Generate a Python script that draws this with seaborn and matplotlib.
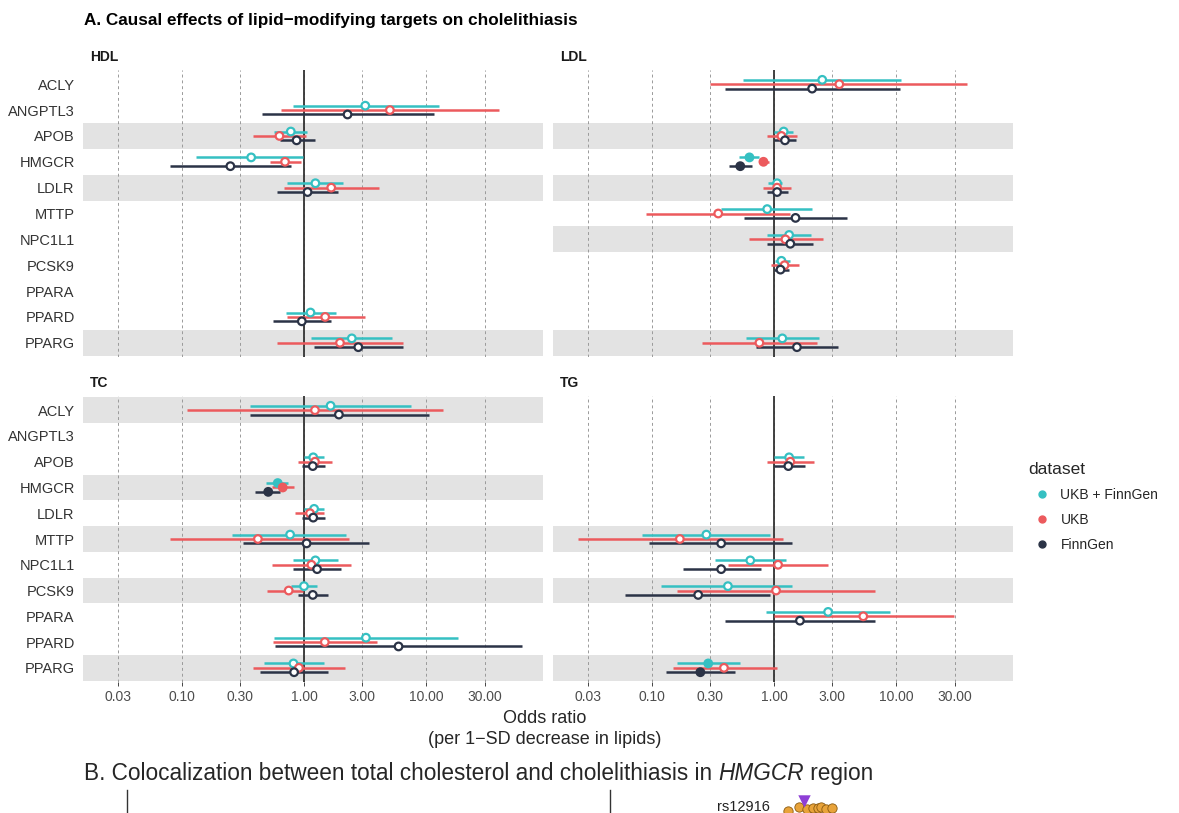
import matplotlib
matplotlib.use("Agg")
import pandas as pd
import matplotlib.pyplot as plt
from matplotlib.lines import Line2D
import seaborn as sns

GENES = ["ACLY", "ANGPTL3", "APOB", "HMGCR", "LDLR", "MTTP",
         "NPC1L1", "PCSK9", "PPARA", "PPARD", "PPARG"]
DATASETS = ["UKB + FinnGen", "UKB", "FinnGen"]
PALETTE = ["#35C0C2", "#EC5A5D", "#2B3346"]
X_TICKS = [0.03, 0.1, 0.3, 1, 3, 10, 30]
X_TICK_LABELS = ["0.03", "0.10", "0.30", "1.00", "3.00", "10.00", "30.00"]

# (odds ratio, lower CI, upper CI) per gene, one list per dataset
HDL_GENES = ["ANGPTL3", "APOB", "HMGCR", "LDLR", "PPARD", "PPARG"]
HDL_META = [(3.17, 0.81, 12.6), (0.78, 0.57, 1.06), (0.37, 0.13, 0.99),
            (1.24, 0.73, 2.10), (1.13, 0.71, 1.82), (2.46, 1.15, 5.24)]
HDL_UKB = [(5.04, 0.65, 39.3), (0.63, 0.38, 1.04), (0.70, 0.53, 0.94),
           (1.67, 0.69, 4.09), (1.49, 0.72, 3.13), (1.97, 0.60, 6.50)]
HDL_FG = [(2.27, 0.45, 11.5), (0.87, 0.64, 1.22), (0.25, 0.08, 0.79),
          (1.07, 0.60, 1.91), (0.96, 0.56, 1.66), (2.78, 1.20, 6.50)]

LDL_GENES = ["ACLY", "APOB", "HMGCR", "LDLR", "MTTP", "NPC1L1", "PCSK9", "PPARG"]
LDL_META = [(2.48, 0.56, 11.0), (1.20, 1.00, 1.43), (0.63, 0.52, 0.76),
            (1.06, 0.89, 1.16), (0.88, 0.37, 2.05), (1.33, 0.88, 1.99),
            (1.15, 1.01, 1.35), (1.17, 0.59, 2.34)]
LDL_UKB = [(3.42, 0.30, 38.2), (1.15, 0.88, 1.55), (0.82, 0.76, 0.91),
           (1.06, 0.82, 1.37), (0.35, 0.09, 1.36), (1.24, 0.63, 2.50),
           (1.22, 0.94, 1.60), (0.76, 0.26, 2.23)]
LDL_FG = [(2.05, 0.40, 10.7), (1.23, 1.00, 1.51), (0.53, 0.43, 0.66),
          (1.06, 0.87, 1.31), (1.50, 0.57, 3.94), (1.36, 0.88, 2.09),
          (1.13, 1.00, 1.32), (1.54, 0.71, 3.33)]

TC_GENES = ["ACLY", "APOB", "HMGCR", "LDLR", "MTTP", "NPC1L1", "PCSK9", "PPARD", "PPARG"]
TC_META = [(1.65, 0.36, 7.55), (1.19, 1.00, 1.46), (0.61, 0.49, 0.74),
           (1.21, 1.00, 1.47), (0.77, 0.26, 2.22), (1.24, 0.82, 1.88),
           (1.00, 0.78, 1.28), (3.21, 0.57, 18.2), (0.82, 0.47, 1.45)]
TC_UKB = [(1.23, 0.11, 13.8), (1.23, 0.90, 1.71), (0.67, 0.55, 0.83),
          (1.12, 0.85, 1.47), (0.42, 0.08, 2.35), (1.15, 0.55, 2.41),
          (0.75, 0.50, 0.98), (1.48, 0.56, 3.99), (0.91, 0.38, 2.16)]
TC_FG = [(1.93, 0.36, 10.5), (1.18, 0.96, 1.49), (0.51, 0.40, 0.64),
         (1.19, 0.97, 1.48), (1.05, 0.32, 3.41), (1.28, 0.82, 2.00),
         (1.18, 0.90, 1.58), (5.93, 0.58, 60.9), (0.83, 0.44, 1.57)]

TG_GENES = ["APOB", "MTTP", "NPC1L1", "PCSK9", "PPARA", "PPARG"]
TG_META = [(1.33, 1.00, 1.75), (0.28, 0.084, 0.93), (0.64, 0.33, 1.26),
           (0.42, 0.12, 1.40), (2.77, 0.86, 8.94), (0.29, 0.16, 0.53)]
TG_UKB = [(1.36, 0.87, 2.12), (0.17, 0.025, 1.18), (1.08, 0.42, 2.78),
          (1.04, 0.16, 6.72), (5.37, 1.00, 29.6), (0.39, 0.15, 1.05)]
TG_FG = [(1.31, 1.00, 1.79), (0.37, 0.095, 1.40), (0.37, 0.18, 0.79),
         (0.24, 0.061, 0.93), (1.63, 0.40, 6.68), (0.25, 0.13, 0.48)]

# estimates whose CI excludes 1 (drawn as filled points)
SIGNIFICANT = [("LDL", "HMGCR", "UKB + FinnGen"), ("LDL", "HMGCR", "UKB"),
               ("LDL", "HMGCR", "FinnGen"), ("TC", "HMGCR", "UKB + FinnGen"),
               ("TC", "HMGCR", "UKB"), ("TC", "HMGCR", "FinnGen"),
               ("TG", "PPARG", "UKB + FinnGen"), ("TG", "PPARG", "FinnGen")]

# visible top of panel B (locus plot, cut off by the page)
B_SNP_POS = [74.605, 74.640, 74.665, 74.685, 74.700, 74.712, 74.728, 74.745]
B_SNP_LOGP = [36.0, 36.8, 36.4, 36.6, 36.5, 36.7, 36.4, 36.6]
B_LEAD_POS = [74.655]
B_LEAD_LOGP = [38.0]
B_LEAD_NAME = "rs12916"

PANELS = {
    "HDL": (HDL_GENES, HDL_META, HDL_UKB, HDL_FG),
    "LDL": (LDL_GENES, LDL_META, LDL_UKB, LDL_FG),
    "TC": (TC_GENES, TC_META, TC_UKB, TC_FG),
    "TG": (TG_GENES, TG_META, TG_UKB, TG_FG),
}

rows = []
offsets = {"UKB + FinnGen": -0.17, "UKB": 0.0, "FinnGen": 0.17}
for lipid, (genes, *sets) in PANELS.items():
    for ds, vals in zip(DATASETS, sets):
        for g, (o, lo, hi) in zip(genes, vals):
            rows.append({"lipid": lipid, "gene": g, "dataset": ds, "or": o,
                         "lo": lo, "hi": hi,
                         "sig": (lipid, g, ds) in SIGNIFICANT,
                         "y": GENES.index(g) + offsets[ds]})
df = pd.DataFrame(rows)
color_map = dict(zip(DATASETS, PALETTE))

sns.set_theme(style="white")
plt.rcParams["font.family"] = ["Liberation Sans", "DejaVu Sans"]

W, H = 1179, 813
fig = plt.figure(figsize=(W / 100, H / 100), dpi=100)


def px_axes(left, top, right, bottom):
    return fig.add_axes([left / W, 1 - bottom / H, (right - left) / W, (bottom - top) / H])


boxes = {"HDL": (83, 70, 543, 357), "LDL": (553, 70, 1013, 357),
         "TC": (83, 396, 543, 682), "TG": (553, 396, 1013, 682)}

for lipid, box in boxes.items():
    ax = px_axes(*box)
    sub = df[df["lipid"] == lipid]
    ax.set_xscale("log")

    # shaded rows: every other gene that has estimates, counted from the bottom
    present = sorted({GENES.index(g) for g in sub["gene"]}, reverse=True)
    for i in present[::2]:
        ax.axhspan(i - 0.5, i + 0.5, color="#E3E3E3", lw=0, zorder=0)

    ax.axvline(1, color="#333333", lw=1.3, zorder=1)
    ax.hlines(sub["y"], sub["lo"], sub["hi"],
              colors=[color_map[d] for d in sub["dataset"]], lw=1.8, zorder=2)

    filled = sub[sub["sig"]]
    hollow = sub[~sub["sig"]]
    if len(hollow):
        sns.scatterplot(data=hollow, x="or", y="y", hue="dataset", hue_order=DATASETS,
                        palette=PALETTE, s=30, linewidth=1.6, legend=False, ax=ax, zorder=3)
        coll = ax.collections[-1]
        coll.set_edgecolors(coll.get_facecolors())
        coll.set_facecolor("white")
    if len(filled):
        sns.scatterplot(data=filled, x="or", y="y", hue="dataset", hue_order=DATASETS,
                        palette=PALETTE, s=30, linewidth=1.6, legend=False, ax=ax, zorder=3)
        coll = ax.collections[-1]
        coll.set_edgecolors(coll.get_facecolors())

    ax.set_xlim(0.0156, 90)
    ax.set_ylim(10.55, -0.55)
    ax.set_xticks(X_TICKS)
    ax.minorticks_off()
    ax.set_axisbelow(True)
    ax.xaxis.grid(True, ls=(0, (3, 3)), color="#9A9A9A", lw=0.7)
    ax.yaxis.grid(False)
    for s in ax.spines.values():
        s.set_visible(False)
    ax.set_xlabel("")
    ax.set_ylabel("")

    ax.set_yticks(range(len(GENES)))
    if lipid in ("HDL", "TC"):
        ax.set_yticklabels(GENES, fontsize=10.5, color="#333333")
        ax.tick_params(axis="y", length=0, pad=6)
    else:
        ax.set_yticklabels([])
        ax.tick_params(axis="y", length=0)
    if lipid in ("TC", "TG"):
        ax.set_xticklabels(X_TICK_LABELS, fontsize=10, color="#4D4D4D")
        ax.tick_params(axis="x", length=3, width=0.7, color="#444444", pad=3, bottom=True)
    else:
        ax.set_xticklabels([])
        ax.tick_params(axis="x", length=0)

    ax.text(0.016, 1 + 13 / (box[3] - box[1]), lipid, transform=ax.transAxes,
            fontsize=10, fontweight="bold", va="center", ha="left", color="#1A1A1A")

fig.text(84 / W, 1 - 21 / H, "A. Causal effects of lipid\u2212modifying targets on cholelithiasis",
         fontsize=12.3, fontweight="bold", va="center", ha="left", color="black")
fig.text(545 / W, 1 - 718 / H, "Odds ratio", fontsize=13, ha="center", va="center")
fig.text(545 / W, 1 - 739 / H, "(per 1\u2212SD decrease in lipids)", fontsize=13,
         ha="center", va="center")

handles = [Line2D([], [], marker="o", ls="", color=c, markersize=5) for c in PALETTE]
fig.legend(handles, DATASETS, title="dataset", loc="upper left",
           bbox_to_anchor=(1016 / W, 1 - 449 / H), frameon=False, fontsize=10,
           title_fontsize=12.5, handletextpad=0.3, labelspacing=0.8, alignment="left")

# panel B heading, with the gene name in italics
top = fig.add_axes([0, 0, 1, 1])
top.set_axis_off()
t1 = top.text(84 / W, 1 - 773 / H, "B. Colocalization between total cholesterol and cholelithiasis in ",
              fontsize=16.3, va="center", ha="left")
t2 = top.annotate("HMGCR", xy=(1, 0), xycoords=t1, va="bottom", ha="left",
                  fontsize=16.3, style="italic")
top.annotate(" region", xy=(1, 0), xycoords=t2, va="bottom", ha="left", fontsize=16.3)

# cut-off locus plots of panel B
axb1 = px_axes(127, 790, 560, 1000)
axb2 = px_axes(610, 790, 1013, 1000)
for a in (axb1, axb2):
    a.set_facecolor("none")
    for name, s in a.spines.items():
        s.set_visible(name == "left")
    a.spines["left"].set_color("#333333")
    a.spines["left"].set_linewidth(1.0)
    a.set_xticks([])
    a.set_yticks([])
    a.set_ylim(0, 40)
axb2.set_xlim(74.03, 75.33)
sns.scatterplot(x=B_SNP_POS, y=B_SNP_LOGP, color="#E8A33A", edgecolor="#8A5A10",
                s=45, linewidth=0.6, ax=axb2, clip_on=False)
sns.scatterplot(x=B_LEAD_POS, y=B_LEAD_LOGP, color="#8E3FD6", marker="v",
                s=80, linewidth=0, ax=axb2, clip_on=False)
axb2.text(74.545, B_LEAD_LOGP[0] - 1.2, B_LEAD_NAME, ha="right",
          va="center", fontsize=10.5, color="#222222")

fig.savefig("out.png", dpi=100)
